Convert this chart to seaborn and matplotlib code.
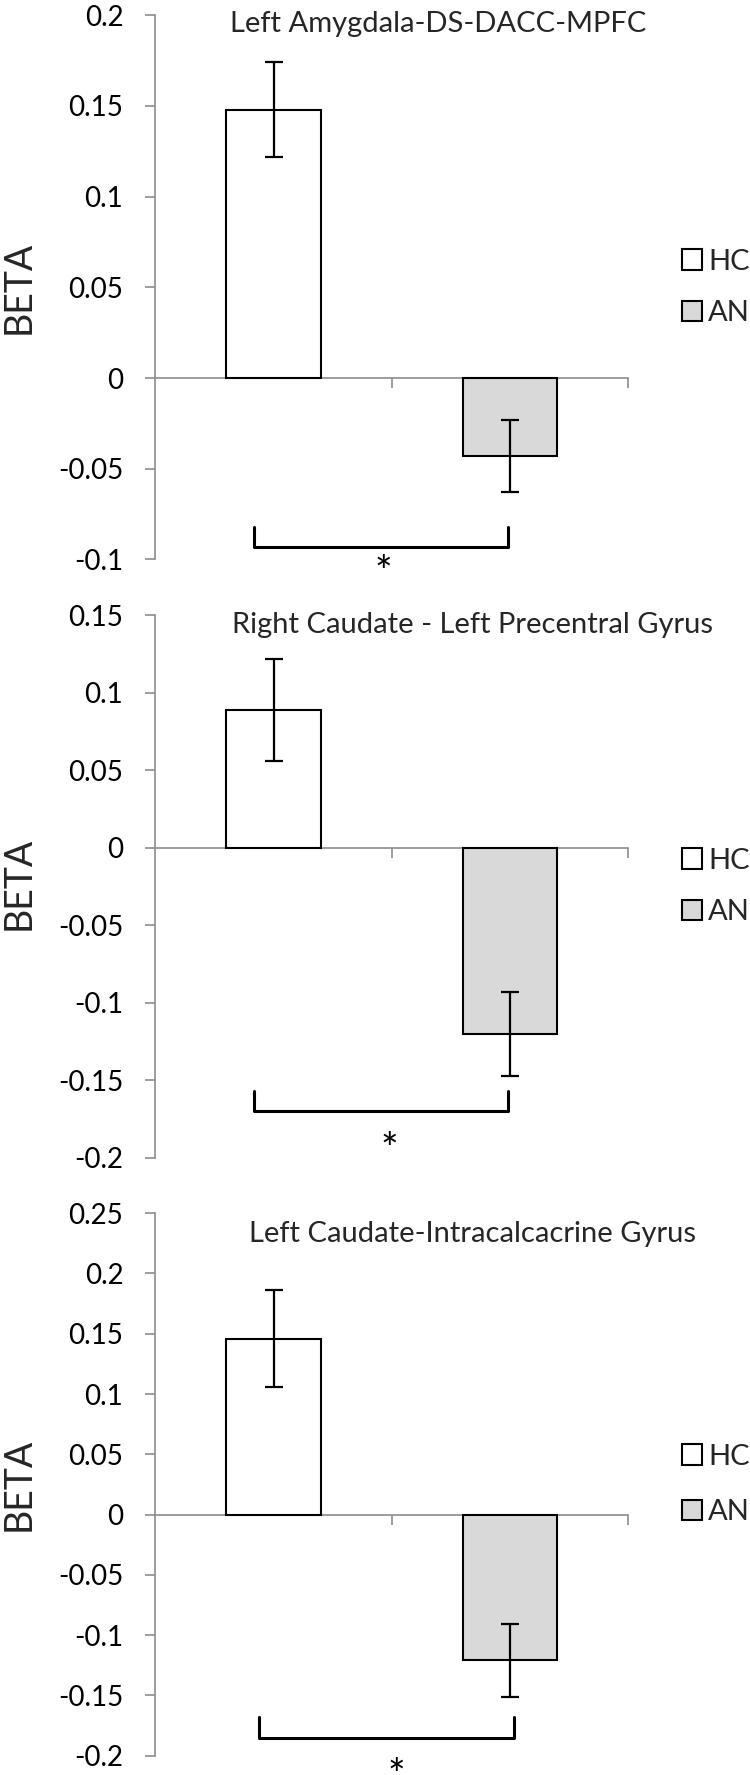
import matplotlib
matplotlib.use("Agg")
import matplotlib.pyplot as plt
import seaborn as sns
import pandas as pd
from matplotlib.patches import Patch

sns.set_style("white")
plt.rcParams['font.family'] = ['Lato', 'DejaVu Sans']

# values
groups = ["HC", "AN"]
titles = ["Left Amygdala-DS-DACC-MPFC",
          "Right Caudate - Left Precentral Gyrus",
          "Left Caudate-Intracalcacrine Gyrus"]
hc_beta = [0.148, 0.089, 0.146]
an_beta = [-0.043, -0.120, -0.121]
hc_err = [0.026, 0.033, 0.040]
an_err = [0.020, 0.027, 0.030]
y_min = [-0.1, -0.2, -0.2]
y_max = [0.2, 0.15, 0.25]
tick_step = 0.05
bracket_y = [-0.093, -0.170, -0.185]
bracket_top = [-0.082, -0.157, -0.168]
star_y = [-0.1027, -0.189, -0.2097]

palette = {"HC": "white", "AN": "#d9d9d9"}
axis_grey = "#8c8c8c"

# axes rectangles in figure fraction (left, bottom, width, height)
panel_rects = [
    [0.2073, 0.6848, 0.630, 0.3066],
    [0.2073, 0.3477, 0.630, 0.3057],
    [0.2073, 0.0109, 0.630, 0.3056],
]
title_pos = [(0.598, 0.969), (0.672, 0.967), (0.671, 0.947)]
ylabel_y = [0.50, 0.505, 0.50]
legend_gap = [0.88, 0.88, 1.02]
bracket_x = [(-0.085, 0.992), (-0.085, 0.992), (-0.062, 1.018)]
star_x = [0.465, 0.49, 0.52]

fig = plt.figure(figsize=(7.5, 17.75), dpi=100)

for i in range(3):
    ax = fig.add_axes(panel_rects[i])
    df = pd.DataFrame({"group": groups,
                       "beta": [hc_beta[i], an_beta[i]],
                       "err": [hc_err[i], an_err[i]]})
    sns.barplot(data=df, x="group", y="beta", hue="group", palette=palette,
                edgecolor="black", linewidth=1.5, width=0.4, errorbar=None,
                legend=False, ax=ax, zorder=2)
    ax.errorbar(x=[0, 1], y=df["beta"], yerr=df["err"], fmt="none",
                ecolor="black", elinewidth=1.6, capsize=6.8, capthick=1.6, zorder=3)

    ax.set_xlim(-0.5, 1.5)
    ax.set_ylim(y_min[i], y_max[i])
    n = int(round((y_max[i] - y_min[i]) / tick_step))
    ticks = [round(y_min[i] + k * tick_step, 2) for k in range(n + 1)]
    ax.set_yticks(ticks)
    ax.set_yticklabels([f"{t:g}" for t in ticks], fontsize=20)

    for side in ["top", "right"]:
        ax.spines[side].set_visible(False)
    ax.spines["left"].set_color(axis_grey)
    ax.spines["left"].set_linewidth(1.2)
    ax.spines["bottom"].set_position(("data", 0))
    ax.spines["bottom"].set_color(axis_grey)
    ax.spines["bottom"].set_linewidth(1.2)
    ax.spines["bottom"].set_zorder(1)
    ax.set_xticks([0.5, 1.5])
    ax.set_xticklabels(["", ""])
    ax.tick_params(axis="x", direction="out", length=7.2, width=1.2, color=axis_grey, bottom=True)
    ax.tick_params(axis="y", direction="out", length=7.2, width=1.2, color=axis_grey,
                   left=True, pad=16, labelcolor="black")
    ax.set_xlabel("")
    ax.set_ylabel("BETA", fontsize=27, va="center")
    ax.yaxis.set_label_coords(-0.29, ylabel_y[i])

    ax.text(title_pos[i][0], title_pos[i][1], titles[i], transform=ax.transAxes,
            ha="center", va="baseline", fontsize=21)

    # significance bracket
    x0, x1 = bracket_x[i]
    ax.plot([x0, x0, x1, x1], [bracket_top[i], bracket_y[i], bracket_y[i], bracket_top[i]],
            color="black", linewidth=2.2, clip_on=False, zorder=3)
    # Lato's asterisk sits high in its box, so nudge it down
    ax.annotate("*", (star_x[i], star_y[i]), xytext=(0, -7), textcoords="offset points",
                ha="center", va="center", fontsize=30, color="black",
                annotation_clip=False)

    handles = [Patch(facecolor=palette[g], edgecolor="black", linewidth=1.5, label=g)
               for g in groups]
    ax.legend(handles=handles, loc="center left", bbox_to_anchor=(1.114, 0.5),
              frameon=False, fontsize=21, handlelength=0.7, handleheight=0.7,
              handletextpad=0.2, labelspacing=legend_gap[i], borderpad=0,
              borderaxespad=0)

fig.savefig("out.png", dpi=100)
